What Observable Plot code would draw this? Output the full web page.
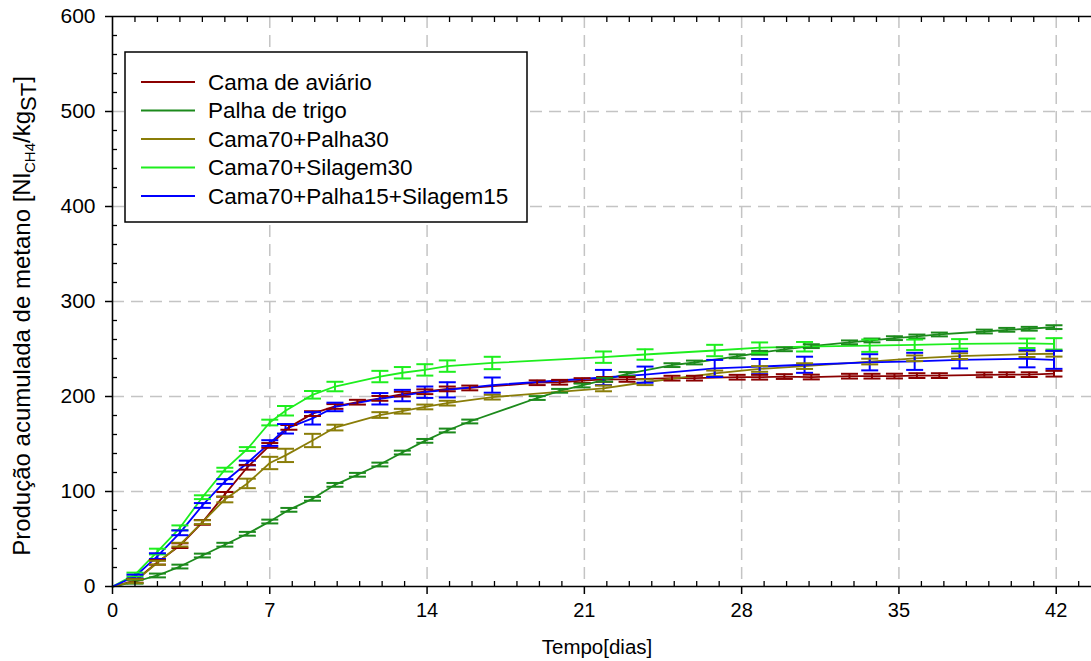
<!DOCTYPE html>
<html>
<head>
<meta charset="utf-8">
<script src="https://cdn.jsdelivr.net/npm/d3@7"></script>
<script src="https://cdn.jsdelivr.net/npm/@observablehq/plot@0.6"></script>
<style>
  html, body { margin: 0; padding: 0; background: #fff; }
  #chart { width: 1091px; height: 661px; }
</style>
</head>
<body>
<div id="chart"></div>
<script>
// Sampling times (days) of the densely monitored reactors
const diasA = [0, 1, 2, 3, 4, 5, 6, 7, 7.85, 8.9, 9.9, 10.9, 11.9, 12.9, 13.9, 14.9, 15.9,
  18.9, 19.9, 20.9, 21.9, 22.9, 24.9, 25.9, 27.8, 28.8, 29.9, 31.1, 32.8, 33.8, 34.8,
  35.8, 36.8, 38.8, 39.8, 40.8, 41.9];
// Sampling times (days) of the co-digestion mixtures
const diasB = [0, 1, 2, 3, 4, 5, 6, 7, 7.7, 8.9, 9.9, 11.9, 12.9, 13.9, 14.9, 16.9, 21.85,
  23.7, 26.8, 28.8, 30.8, 33.7, 35.7, 37.7, 40.7, 41.9];

// Accumulated methane (Nl CH4 / kg ST) and standard deviation
const camaAviario = [0, 6, 25.5, 43, 67.5, 97, 125.5, 148.5, 167.5, 182, 189.5, 194, 198, 202.5,
  205, 208, 209, 214.5, 215, 216.8, 218, 218, 219.3, 219.3, 220.3, 220.3, 221, 220.5, 221.4,
  221.4, 221.5, 222, 222, 222.8, 223, 223, 224];
const camaAviarioDp = [0, 2, 2.5, 2.5, 2.5, 2.5, 2.5, 2.5, 2.5, 2.5, 2.5, 2.5, 2.5, 2.5, 2.5,
  2.5, 2.5, 2.5, 2.5, 2.5, 2.5, 2.5, 2.5, 2.5, 2.5, 2.5, 2.5, 2.5, 2.5, 2.5, 2.5, 2.5, 2.5,
  2.5, 2.5, 2.5, 3];

const palhaTrigo = [0, 5, 11.6, 21, 32.6, 44, 55.5, 68.4, 80.7, 92.3, 107, 117.6, 128.4, 141,
  153.3, 164.2, 173.7, 198.4, 206, 211.6, 217.6, 223.7, 233, 235.8, 242.3, 246, 249.7, 253,
  257, 259, 261.4, 263.2, 265.3, 268.4, 270.2, 271.3, 273];
const palhaTrigoDp = [0, 2, 2, 2, 2, 2, 2, 2, 2, 2, 2, 2, 2, 2, 2, 2, 2, 2, 2, 2, 2, 2, 2, 2,
  2, 2, 2, 2, 2, 2, 2, 2, 2, 2, 2, 2, 2];

const cama70Palha30 = [0, 5.6, 25, 44, 67.7, 91.6, 108.5, 130, 138, 153.7, 167.3, 180.5, 184.5,
  189, 193, 199.3, 208.5, 215, 224.3, 229, 232, 236.8, 240.2, 242.5, 244.6, 245];
const cama70Palha30Dp = [0, 2, 2, 2, 2, 3, 5, 6.5, 7, 7, 3, 3, 2.5, 2.5, 2.5, 2.5, 3, 3, 3, 3,
  3, 3, 3, 3, 3, 3];

const cama70Silagem30 = [0, 12.6, 36.8, 61.8, 94, 123, 144.7, 172.6, 185, 201.8, 210.5, 221,
  225, 228, 232, 235.3, 241.4, 244.2, 248.4, 251.4, 252.4, 253.5, 254.4, 255.4, 256, 255.4];
const cama70Silagem30Dp = [0, 2, 3, 2.5, 2, 2, 2, 3, 5, 4, 5, 6, 6, 6, 6, 6.5, 6, 5.5, 6, 5.5,
  5, 6.5, 5.5, 5, 5, 6];

const cama70Palha15Silagem15 = [0, 10.5, 32, 56.5, 85.3, 110.5, 130, 151, 166, 177, 189, 197.6,
  201, 204.5, 207, 212, 220, 223, 229.5, 231.5, 233.4, 236, 237, 238.6, 239.7, 238.6];
const cama70Palha15Silagem15Dp = [0, 2, 3, 2.5, 2.5, 2.5, 2.5, 3, 5, 6.5, 4.5, 6, 6, 6, 8, 8,
  8, 8.5, 9, 8, 8.5, 8.5, 9, 9, 9, 9.5];

const nomes = ["Cama de aviário", "Palha de trigo", "Cama70+Palha30", "Cama70+Silagem30",
  "Cama70+Palha15+Silagem15"];
const cores = ["#8b0000", "#1c8a1c", "#8a7d08", "#1eee1e", "#0000ff"];

const ticksX = [0, 7, 14, 21, 28, 35, 42];
const ticksY = [0, 100, 200, 300, 400, 500, 600];

const series = [
  {nome: nomes[0], dias: diasA, v: camaAviario, dp: camaAviarioDp},
  {nome: nomes[1], dias: diasA, v: palhaTrigo, dp: palhaTrigoDp},
  {nome: nomes[2], dias: diasB, v: cama70Palha30, dp: cama70Palha30Dp},
  {nome: nomes[3], dias: diasB, v: cama70Silagem30, dp: cama70Silagem30Dp},
  {nome: nomes[4], dias: diasB, v: cama70Palha15Silagem15, dp: cama70Palha15Silagem15Dp}
];

const rows = series.flatMap(s => s.dias.map((d, i) => ({
  serie: s.nome, dia: d, v: s.v[i], lo: s.v[i] - s.dp[i], hi: s.v[i] + s.dp[i], dp: s.dp[i]
})));
const barras = rows.filter(r => r.dp > 0);

// minor ticks: every day on x, every 20 units on y
const minorX = d3.range(0, 44).filter(d => d % 7 !== 0);
const minorY = d3.range(20, 600, 20).filter(v => v % 100 !== 0);

// horizontal cap of an error bar, half-width equal to r
const cap = {draw(ctx, size) { const w = Math.sqrt(size / Math.PI); ctx.moveTo(-w, 0); ctx.lineTo(w, 0); }};

const grid = {stroke: "#c4c4c4", strokeOpacity: 1, strokeWidth: 1.5, strokeDasharray: "12,7"};
const fonte = "'Liberation Sans', Arial, sans-serif";

const plot = Plot.plot({
  width: 1091,
  height: 661,
  marginLeft: 112,
  marginRight: 0,
  marginTop: 16,
  marginBottom: 75,
  style: {fontFamily: fonte, fontSize: "20px", background: "#fff", color: "#000"},
  x: {domain: [0, 43.57]},
  y: {domain: [0, 600]},
  color: {domain: nomes, range: cores},
  marks: [
    Plot.gridX(ticksX.slice(1), grid),
    Plot.gridY(ticksY.slice(1, -1), grid),
    Plot.line(rows, {x: "dia", y: "v", z: "serie", stroke: "serie", strokeWidth: 1.8}),
    Plot.ruleX(barras, {x: "dia", y1: "lo", y2: "hi", stroke: "serie", strokeWidth: 2}),
    Plot.dot(barras, {x: "dia", y: "lo", symbol: cap, r: 8.5, stroke: "serie", fill: "none", strokeWidth: 2}),
    Plot.dot(barras, {x: "dia", y: "hi", symbol: cap, r: 8.5, stroke: "serie", fill: "none", strokeWidth: 2}),
    Plot.ruleY([0], {stroke: "#000", strokeWidth: 1.6}),
    Plot.ruleY([600], {stroke: "#000", strokeWidth: 1.6}),
    Plot.ruleX([0], {stroke: "#000", strokeWidth: 1.6}),
    Plot.axisY(ticksY, {tickSize: 7, tickPadding: 10, strokeWidth: 1.5, fontSize: 21, label: null}),
    Plot.axisY(minorY, {tickSize: -5, tickFormat: () => "", strokeWidth: 1.3, label: null}),
    Plot.axisX(ticksX, {tickSize: 8, tickPadding: 8, strokeWidth: 1.5, fontSize: 20, label: null}),
    Plot.axisX(minorX, {tickSize: -5, tickFormat: () => "", strokeWidth: 1.3, label: null}),
    Plot.axisX(minorX, {anchor: "top", tickSize: -5, tickFormat: () => "", strokeWidth: 1.3, label: null})
  ]
});

document.getElementById("chart").appendChild(plot);

const svg = d3.select(plot);

// axis titles
svg.append("text")
  .attr("x", 597).attr("y", 654)
  .attr("text-anchor", "middle")
  .attr("font-family", fonte).attr("font-size", 20.5)
  .text("Tempo[dias]");

const yt = svg.append("text")
  .attr("transform", "translate(30,316) rotate(-90)")
  .attr("text-anchor", "middle")
  .attr("font-family", fonte).attr("font-size", 24);
yt.append("tspan").text("Produção acumulada de metano [Nl");
yt.append("tspan").attr("font-size", 15).attr("dy", 5).text("CH4");
yt.append("tspan").attr("dy", -5).text("/kg");
yt.append("tspan").attr("dy", 6).attr("font-size", 22).text("ST");
yt.append("tspan").attr("dy", -6).text("]");

// legend
const leg = svg.append("g");
leg.append("rect")
  .attr("x", 125).attr("y", 52).attr("width", 402).attr("height", 170)
  .attr("fill", "#fff").attr("stroke", "#000").attr("stroke-width", 1.5);
nomes.forEach((n, i) => {
  const y = 82 + i * 28.5;
  leg.append("line").attr("x1", 141).attr("x2", 195).attr("y1", y).attr("y2", y)
    .attr("stroke", cores[i]).attr("stroke-width", 1.8);
  leg.append("text").attr("x", 208).attr("y", y).attr("dy", "0.35em")
    .attr("text-anchor", "start")
    .attr("font-family", fonte).attr("font-size", 22.5).text(n);
});
</script>
</body>
</html>
